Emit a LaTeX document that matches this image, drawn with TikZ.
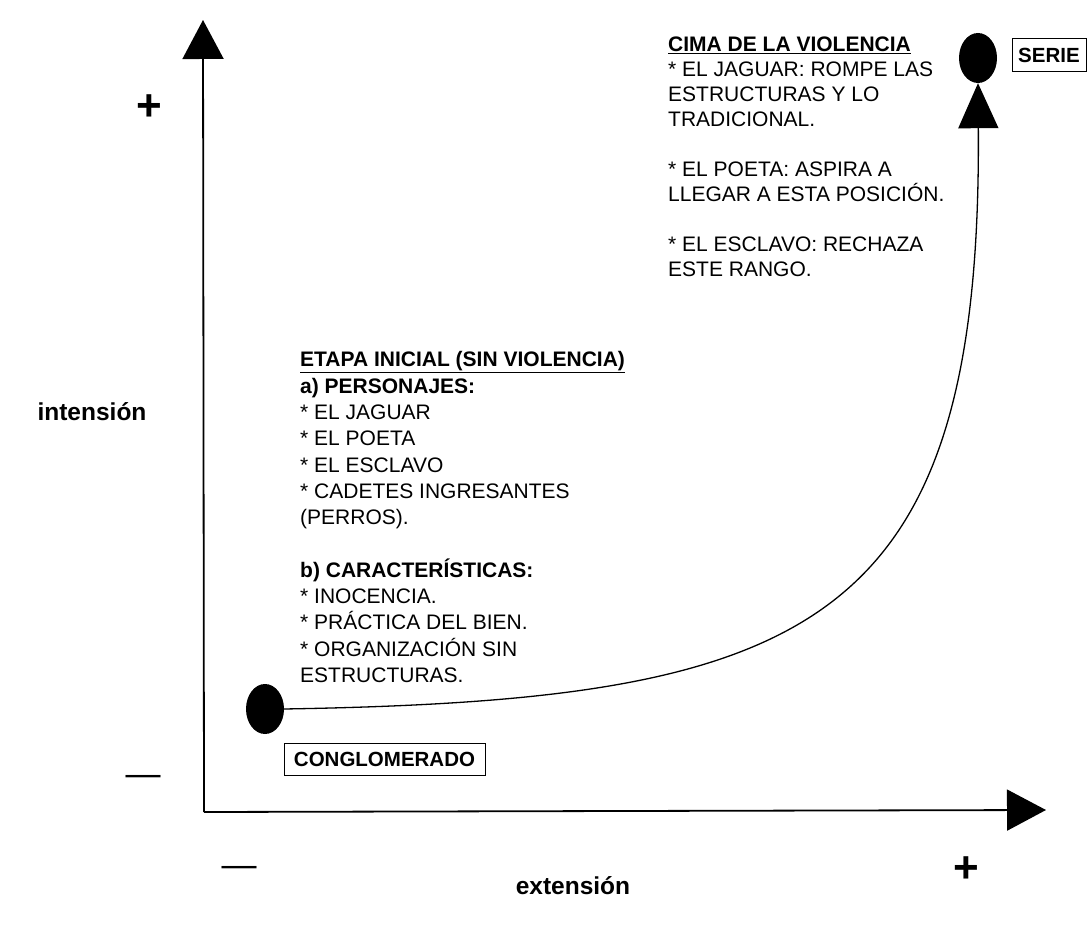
\documentclass[tikz,border=0pt]{standalone}
\usepackage{fontspec}
\setmainfont{Liberation Sans}
\usetikzlibrary{arrows.meta,shapes.geometric}
\begin{document}
\begin{tikzpicture}[x=1pt,y=-1pt,
  txt/.style={font=\fontsize{21}{25}\selectfont, align=left, anchor=north west, inner sep=0pt},
  lbl/.style={font=\fontsize{24.5}{28}\selectfont\bfseries, inner sep=0pt},
  plussign/.style={font=\fontsize{44}{46}\selectfont\bfseries, inner sep=0pt},
  minussign/.style={font=\fontsize{35}{40}\selectfont, inner sep=0pt},
  blob/.style={ellipse, fill=black, inner sep=0pt, minimum width=38pt, minimum height=50pt},
  tag/.style={draw, line width=1pt, font=\fontsize{20.5}{24}\selectfont\bfseries, inner sep=0pt},
  axis/.style={line width=1.8pt, -{Triangle[length=39pt,width=41pt]}},
  curve/.style={line width=1.3pt, -{Triangle[length=45pt,width=40pt]}}]
\useasboundingbox (0,0) rectangle (1088,925);

% axes
\coordinate (o) at (204,812);
\coordinate (ytip) at (203,20);
\coordinate (xtip) at (1046,810);
\draw[axis] (o) -- (ytip);
\draw[axis] (o) -- (xtip);

% points and curve
\node[blob] (c1) at (265,709) {};
\node[blob] (c2) at (978,58) {};
\draw[curve] (c1.east) .. controls (810,700) and (982,630) .. (c2.south);

% boxes
\node[tag, minimum width=201pt, minimum height=32pt] (conglo) at (384.5,759) {CONGLOMERADO};
\node[tag, minimum width=74pt, minimum height=33pt] (serie) at (1049,55.5) {SERIE};

% text blocks
\node[txt] (cima) at (668,36.5) {\textbf{\underline{CIMA DE LA VIOLENCIA}}\\
{*} EL JAGUAR: ROMPE LAS\\
ESTRUCTURAS Y LO\\
TRADICIONAL.\\[25pt]
{*} EL POETA: ASPIRA A\\
LLEGAR A ESTA POSICIÓN.\\[25pt]
{*} EL ESCLAVO: RECHAZA\\
ESTE RANGO.};

\node[txt, font=\fontsize{21}{26.3}\selectfont] (etapa) at (300,351.5) {\textbf{\underline{ETAPA INICIAL (SIN VIOLENCIA)}}\\
\textbf{a) PERSONAJES:}\\
{*} EL JAGUAR\\
{*} EL POETA\\
{*} EL ESCLAVO\\
{*} CADETES INGRESANTES\\
(PERROS).\\[26.3pt]
\textbf{b) CARACTERÍSTICAS:}\\
{*} INOCENCIA.\\
{*} PRÁCTICA DEL BIEN.\\
{*} ORGANIZACIÓN SIN\\
ESTRUCTURAS.};

% axis labels and signs
\node[lbl] (ylab) at (92,412) {intensión};
\node[lbl] (xlab) at (573,886) {extensión};
\node[plussign] (yplus) at (149,108) {+};
\node[minussign] (yminus) at (143,780) {—};
\node[minussign] (xminus) at (239,871) {—};
\node[plussign] (xplus) at (966,870) {+};
\end{tikzpicture}
\end{document}
